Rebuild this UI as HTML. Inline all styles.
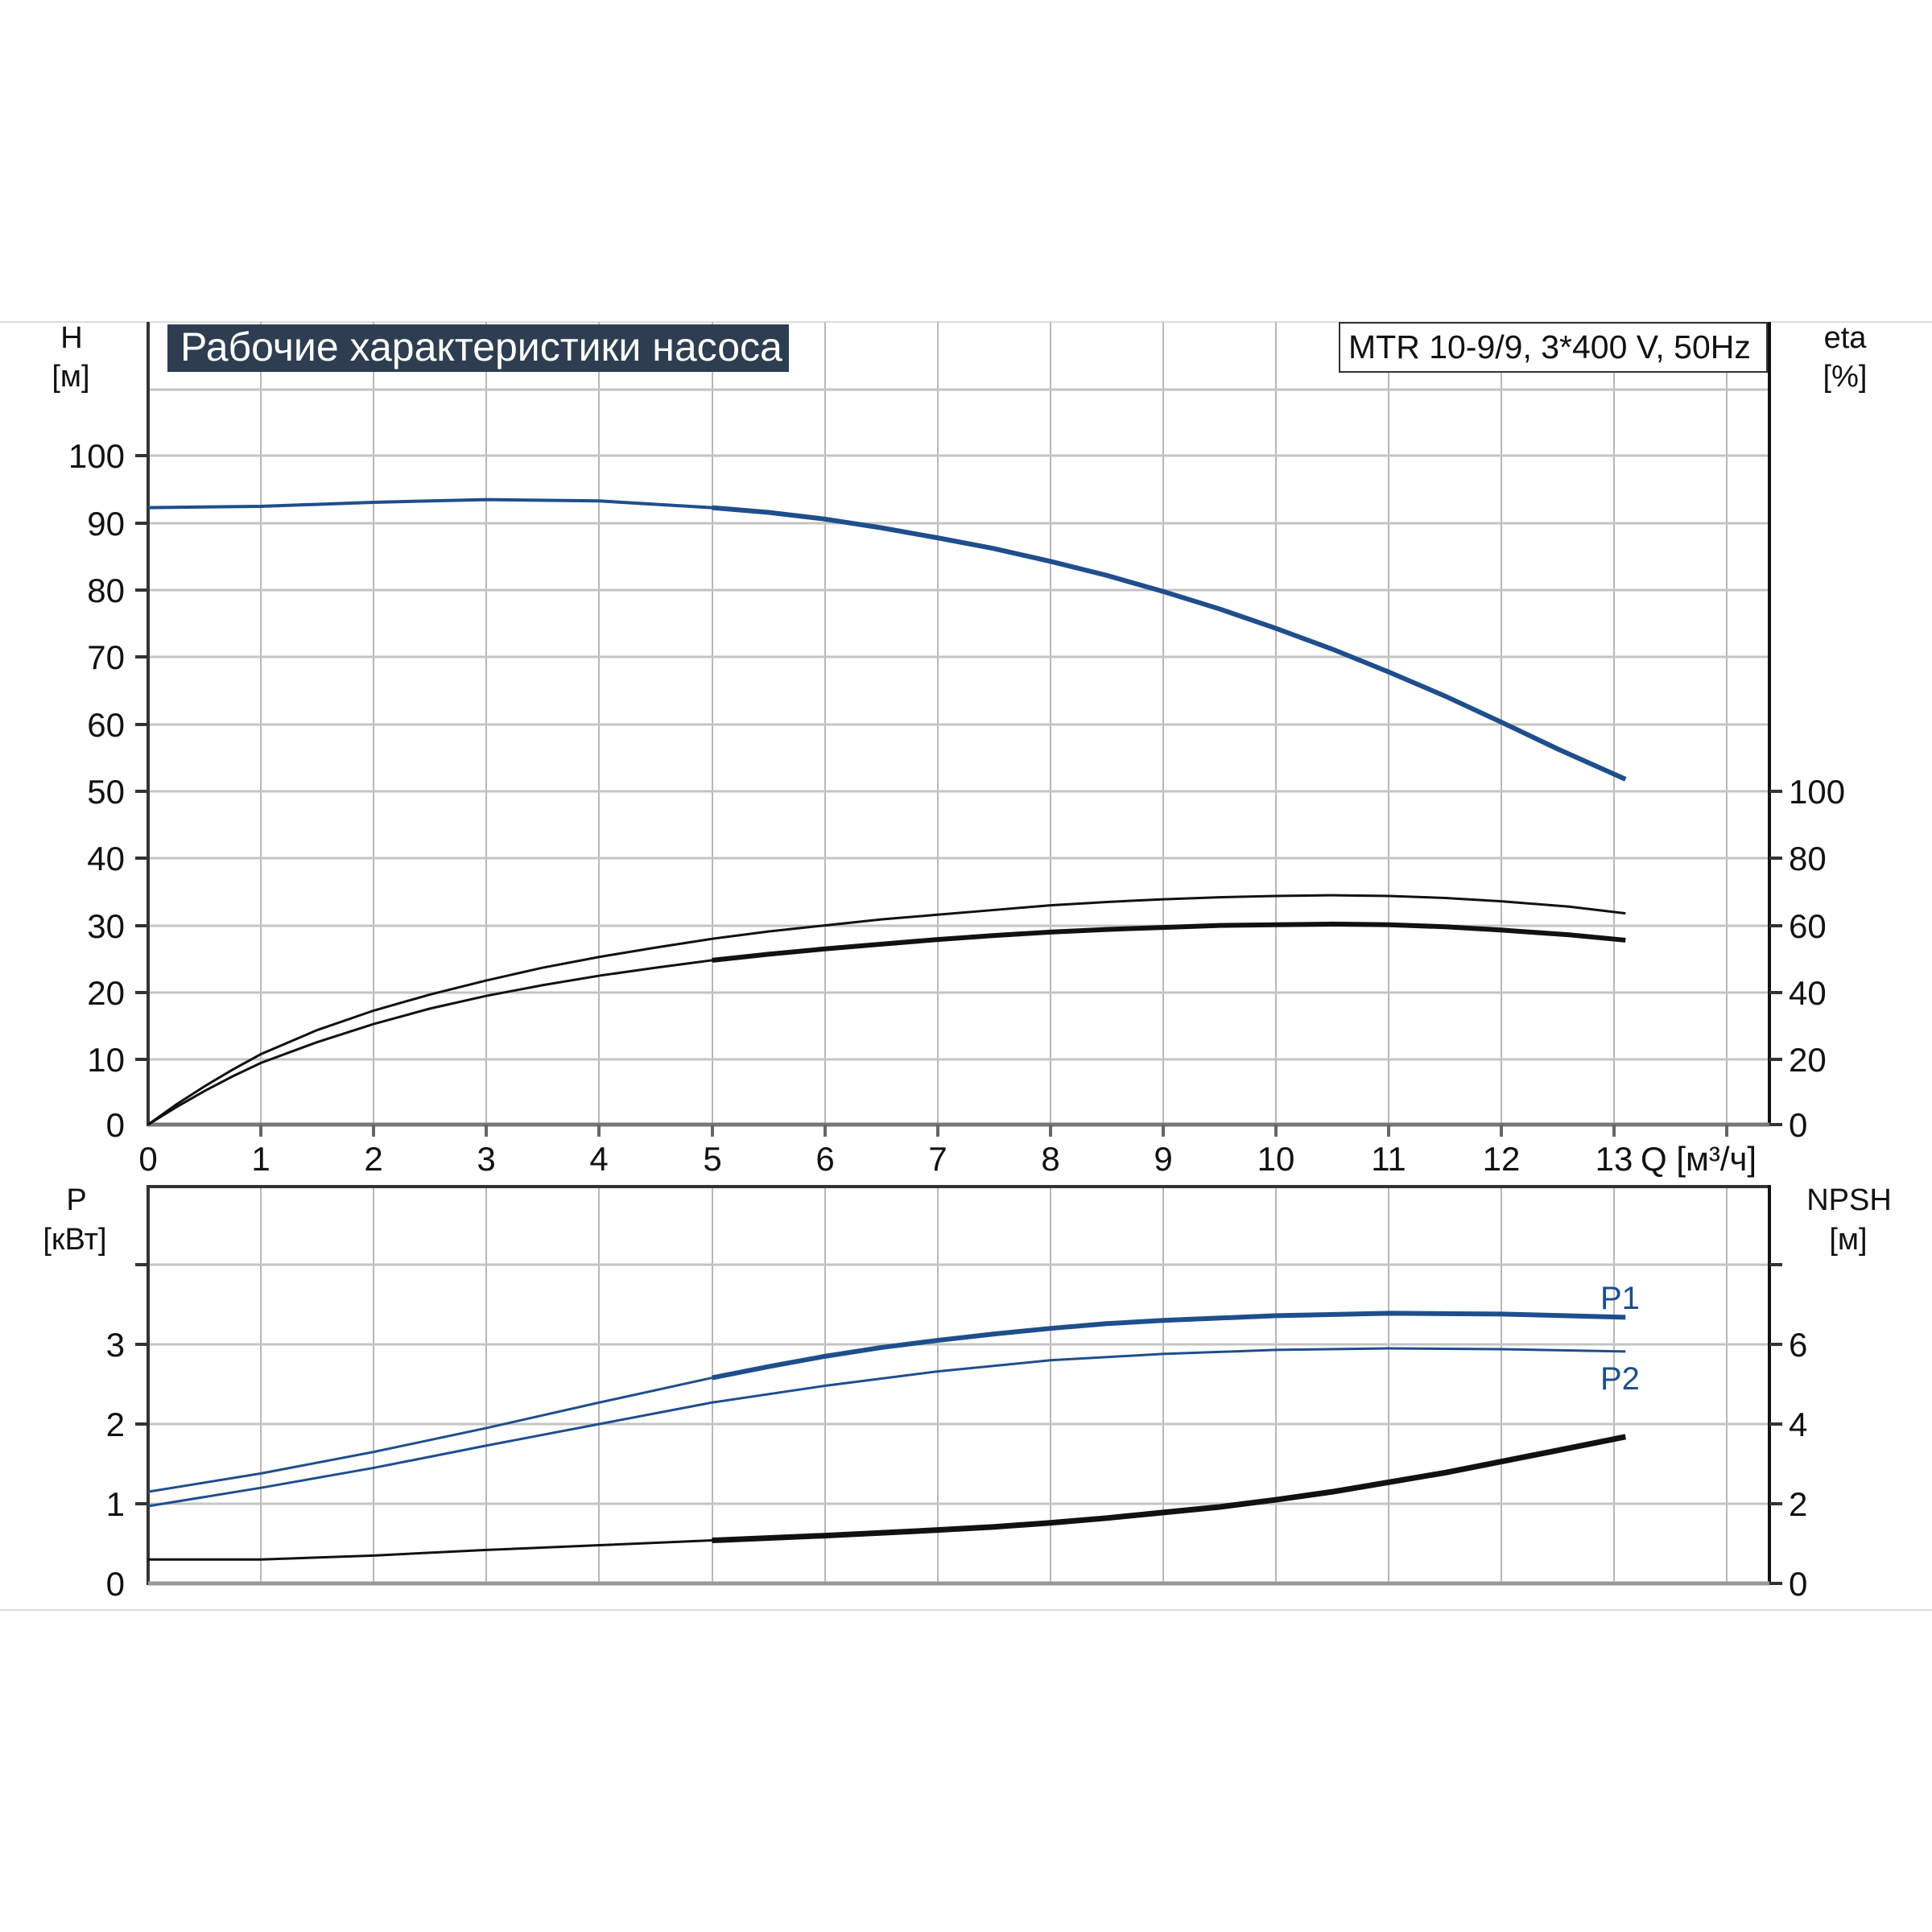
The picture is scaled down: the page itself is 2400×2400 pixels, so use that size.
<!DOCTYPE html>
<html><head><meta charset="utf-8"><style>
html,body{margin:0;padding:0;background:#fff;}
svg{display:block;}
text{font-family:"Liberation Sans",sans-serif;fill:#111;}
</style></head><body>
<svg width="2400" height="2400" viewBox="0 0 2400 2400" xmlns="http://www.w3.org/2000/svg">
<rect width="2400" height="2400" fill="#fff"/>
<line x1="0" y1="400" x2="2400" y2="400" stroke="#ddd" stroke-width="2"/>
<line x1="0" y1="2000" x2="2400" y2="2000" stroke="#ddd" stroke-width="2"/>
<g stroke="#b8b8b8" stroke-width="2">
<line x1="324" y1="400" x2="324" y2="1397"/><line x1="464" y1="400" x2="464" y2="1397"/>
<line x1="604" y1="400" x2="604" y2="1397"/><line x1="744" y1="400" x2="744" y2="1397"/>
<line x1="885" y1="400" x2="885" y2="1397"/><line x1="1025" y1="400" x2="1025" y2="1397"/>
<line x1="1165" y1="400" x2="1165" y2="1397"/><line x1="1305" y1="400" x2="1305" y2="1397"/>
<line x1="1445" y1="400" x2="1445" y2="1397"/><line x1="1585" y1="400" x2="1585" y2="1397"/>
<line x1="1725" y1="400" x2="1725" y2="1397"/><line x1="1865" y1="400" x2="1865" y2="1397"/>
<line x1="2005" y1="400" x2="2005" y2="1397"/><line x1="2145" y1="400" x2="2145" y2="1397"/>
</g>
<g stroke="#c4c4c4" stroke-width="3">
<line x1="184" y1="484" x2="2198" y2="484"/>
<line x1="184" y1="566" x2="2198" y2="566"/><line x1="184" y1="650" x2="2198" y2="650"/>
<line x1="184" y1="733" x2="2198" y2="733"/><line x1="184" y1="816" x2="2198" y2="816"/>
<line x1="184" y1="900" x2="2198" y2="900"/><line x1="184" y1="983" x2="2198" y2="983"/>
<line x1="184" y1="1066" x2="2198" y2="1066"/><line x1="184" y1="1150" x2="2198" y2="1150"/>
<line x1="184" y1="1233" x2="2198" y2="1233"/><line x1="184" y1="1316" x2="2198" y2="1316"/>
</g>
<line x1="184" y1="400" x2="184" y2="1399" stroke="#333" stroke-width="4"/>
<line x1="2198" y1="400" x2="2198" y2="1399" stroke="#111" stroke-width="4"/>
<line x1="184" y1="1397" x2="2198" y2="1397" stroke="#777" stroke-width="5"/>
<g stroke="#333" stroke-width="4">
<line x1="168" y1="566" x2="184" y2="566"/><line x1="168" y1="650" x2="184" y2="650"/>
<line x1="168" y1="733" x2="184" y2="733"/><line x1="168" y1="816" x2="184" y2="816"/>
<line x1="168" y1="900" x2="184" y2="900"/><line x1="168" y1="983" x2="184" y2="983"/>
<line x1="168" y1="1066" x2="184" y2="1066"/><line x1="168" y1="1150" x2="184" y2="1150"/>
<line x1="168" y1="1233" x2="184" y2="1233"/><line x1="168" y1="1316" x2="184" y2="1316"/>
<line x1="2198" y1="983" x2="2214" y2="983"/><line x1="2198" y1="1066" x2="2214" y2="1066"/>
<line x1="2198" y1="1150" x2="2214" y2="1150"/><line x1="2198" y1="1233" x2="2214" y2="1233"/>
<line x1="2198" y1="1316" x2="2214" y2="1316"/><line x1="2198" y1="1397" x2="2214" y2="1397"/>
</g>
<g stroke="#666" stroke-width="4">
<line x1="324" y1="1397" x2="324" y2="1412"/><line x1="464" y1="1397" x2="464" y2="1412"/>
<line x1="604" y1="1397" x2="604" y2="1412"/><line x1="744" y1="1397" x2="744" y2="1412"/>
<line x1="885" y1="1397" x2="885" y2="1412"/><line x1="1025" y1="1397" x2="1025" y2="1412"/>
<line x1="1165" y1="1397" x2="1165" y2="1412"/><line x1="1305" y1="1397" x2="1305" y2="1412"/>
<line x1="1445" y1="1397" x2="1445" y2="1412"/><line x1="1585" y1="1397" x2="1585" y2="1412"/>
<line x1="1725" y1="1397" x2="1725" y2="1412"/><line x1="1865" y1="1397" x2="1865" y2="1412"/>
<line x1="2005" y1="1397" x2="2005" y2="1412"/><line x1="2145" y1="1397" x2="2145" y2="1412"/>
</g>
<g font-size="42" text-anchor="end">
<text x="155" y="581">100</text><text x="155" y="665">90</text><text x="155" y="748">80</text>
<text x="155" y="831">70</text><text x="155" y="915">60</text><text x="155" y="998">50</text>
<text x="155" y="1081">40</text><text x="155" y="1165">30</text><text x="155" y="1248">20</text>
<text x="155" y="1331">10</text><text x="155" y="1412">0</text>
</g>
<g font-size="42">
<text x="2222" y="998">100</text><text x="2222" y="1081">80</text><text x="2222" y="1165">60</text>
<text x="2222" y="1248">40</text><text x="2222" y="1331">20</text><text x="2222" y="1412">0</text>
</g>
<g font-size="42" text-anchor="middle">
<text x="184" y="1454">0</text><text x="324" y="1454">1</text><text x="464" y="1454">2</text>
<text x="604" y="1454">3</text><text x="744" y="1454">4</text><text x="885" y="1454">5</text>
<text x="1025" y="1454">6</text><text x="1165" y="1454">7</text><text x="1305" y="1454">8</text>
<text x="1445" y="1454">9</text><text x="1585" y="1454">10</text><text x="1725" y="1454">11</text>
<text x="1865" y="1454">12</text><text x="2005" y="1454">13</text>
</g>
<text x="2038" y="1454" font-size="42">Q [м³/ч]</text>
<g font-size="38" text-anchor="middle">
<text x="89" y="432">H</text><text x="88" y="480">[м]</text>
<text x="2292" y="432">eta</text><text x="2292" y="480">[%]</text>
</g>
<rect x="208" y="403" width="772" height="59" fill="#2e3e50"/>
<text x="224" y="448" font-size="50" style="fill:#fff;font-family:'Liberation Sans Narrow','Liberation Sans',sans-serif;">Рабочие характеристики насоса</text>
<rect x="1664" y="401" width="531" height="61" fill="#fff" stroke="#333" stroke-width="2"/>
<text x="1675" y="445" font-size="41">MTR 10-9/9, 3*400 V, 50Hz</text>
<g transform="translate(184,1397) scale(140.1,-8.33)" fill="none">
<polyline vector-effect="non-scaling-stroke" stroke="#1f4e8c" stroke-width="4" points="0,92 1,92.2 2,92.8 3,93.2 4,93 5,92"/>
<polyline vector-effect="non-scaling-stroke" stroke="#1f4e8c" stroke-width="6" points="5,92 5.5,91.3 6,90.3 6.5,89 7,87.5 7.5,85.9 8,84 8.5,81.9 9,79.5 9.5,76.9 10,74 10.5,70.9 11,67.5 11.5,63.9 12,60 12.5,56 13.1,51.5"/>
<polyline vector-effect="non-scaling-stroke" stroke="#111" stroke-width="3" points="0,0 0.25,3 0.5,5.7 0.75,8.2 1,10.5 1.5,14.1 2,17 2.5,19.4 3,21.5 3.5,23.4 4,25 4.5,26.4 5,27.7 5.5,28.8 6,29.7 6.5,30.6 7,31.3 7.5,32 8,32.7 8.5,33.2 9,33.6 9.5,33.9 10,34.1 10.5,34.2 11,34.1 11.5,33.8 12,33.3 12.6,32.5 13.1,31.5"/>
<polyline vector-effect="non-scaling-stroke" stroke="#111" stroke-width="3" points="0,0 0.25,2.6 0.5,5 0.75,7.2 1,9.2 1.5,12.3 2,15 2.5,17.3 3,19.2 3.5,20.8 4,22.2 4.5,23.4 5,24.5"/>
<polyline vector-effect="non-scaling-stroke" stroke="#111" stroke-width="6" points="5,24.5 5.5,25.4 6,26.2 6.5,26.9 7,27.6 7.5,28.2 8,28.7 8.5,29.1 9,29.4 9.5,29.7 10,29.8 10.5,29.9 11,29.8 11.5,29.5 12,29 12.6,28.3 13.1,27.5"/>
</g>
<g stroke="#b8b8b8" stroke-width="2">
<line x1="324" y1="1474" x2="324" y2="1967"/><line x1="464" y1="1474" x2="464" y2="1967"/>
<line x1="604" y1="1474" x2="604" y2="1967"/><line x1="744" y1="1474" x2="744" y2="1967"/>
<line x1="885" y1="1474" x2="885" y2="1967"/><line x1="1025" y1="1474" x2="1025" y2="1967"/>
<line x1="1165" y1="1474" x2="1165" y2="1967"/><line x1="1305" y1="1474" x2="1305" y2="1967"/>
<line x1="1445" y1="1474" x2="1445" y2="1967"/><line x1="1585" y1="1474" x2="1585" y2="1967"/>
<line x1="1725" y1="1474" x2="1725" y2="1967"/><line x1="1865" y1="1474" x2="1865" y2="1967"/>
<line x1="2005" y1="1474" x2="2005" y2="1967"/><line x1="2145" y1="1474" x2="2145" y2="1967"/>
</g>
<g stroke="#c4c4c4" stroke-width="3">
<line x1="184" y1="1571" x2="2198" y2="1571"/><line x1="184" y1="1670" x2="2198" y2="1670"/>
<line x1="184" y1="1769" x2="2198" y2="1769"/><line x1="184" y1="1868" x2="2198" y2="1868"/>
</g>
<line x1="184" y1="1474" x2="2198" y2="1474" stroke="#333" stroke-width="4"/>
<line x1="184" y1="1472" x2="184" y2="1969" stroke="#333" stroke-width="4"/>
<line x1="2198" y1="1472" x2="2198" y2="1969" stroke="#111" stroke-width="4"/>
<line x1="184" y1="1967" x2="2198" y2="1967" stroke="#999" stroke-width="5"/>
<g stroke="#333" stroke-width="4">
<line x1="168" y1="1571" x2="184" y2="1571"/><line x1="168" y1="1670" x2="184" y2="1670"/>
<line x1="168" y1="1769" x2="184" y2="1769"/><line x1="168" y1="1868" x2="184" y2="1868"/>
<line x1="2198" y1="1571" x2="2214" y2="1571"/><line x1="2198" y1="1670" x2="2214" y2="1670"/>
<line x1="2198" y1="1769" x2="2214" y2="1769"/><line x1="2198" y1="1868" x2="2214" y2="1868"/>
<line x1="2198" y1="1967" x2="2214" y2="1967"/>
</g>
<g font-size="42" text-anchor="end">
<text x="155" y="1685">3</text><text x="155" y="1784">2</text><text x="155" y="1883">1</text><text x="155" y="1982">0</text>
</g>
<g font-size="42">
<text x="2222" y="1685">6</text><text x="2222" y="1784">4</text><text x="2222" y="1883">2</text><text x="2222" y="1982">0</text>
</g>
<g font-size="38" text-anchor="middle">
<text x="95" y="1503">P</text><text x="93" y="1552">[кВт]</text>
<text x="2297" y="1503">NPSH</text><text x="2296" y="1552">[м]</text>
</g>
<g transform="translate(184,1967) scale(140.1,-99)" fill="none">
<polyline vector-effect="non-scaling-stroke" stroke="#1f4e8c" stroke-width="3" points="0,1.15 1,1.38 2,1.65 3,1.95 4,2.27 5,2.58"/>
<polyline vector-effect="non-scaling-stroke" stroke="#1f4e8c" stroke-width="6" points="5,2.58 5.5,2.72 6,2.85 6.5,2.96 7,3.05 7.5,3.13 8,3.2 8.5,3.26 9,3.3 10,3.36 11,3.39 12,3.38 13.1,3.34"/>
<polyline vector-effect="non-scaling-stroke" stroke="#1f4e8c" stroke-width="3" points="0,0.97 1,1.2 2,1.45 3,1.73 4,2.0 5,2.27 6,2.48 7,2.66 8,2.8 9,2.88 10,2.93 11,2.95 12,2.94 13.1,2.91"/>
<polyline vector-effect="non-scaling-stroke" stroke="#111" stroke-width="3" points="0,0.3 1,0.3 2,0.35 3,0.42 4,0.48 5,0.54"/>
<polyline vector-effect="non-scaling-stroke" stroke="#111" stroke-width="7" points="5,0.54 6,0.6 7,0.67 7.5,0.71 8,0.76 8.5,0.82 9,0.89 9.5,0.96 10,1.05 10.5,1.15 11,1.27 11.5,1.39 12,1.53 12.5,1.67 13.1,1.84"/>
</g>
<text x="1988" y="1626" font-size="40" style="fill:#1f4e8c">P1</text>
<text x="1988" y="1726" font-size="40" style="fill:#1f4e8c">P2</text>
</svg>
</body></html>
